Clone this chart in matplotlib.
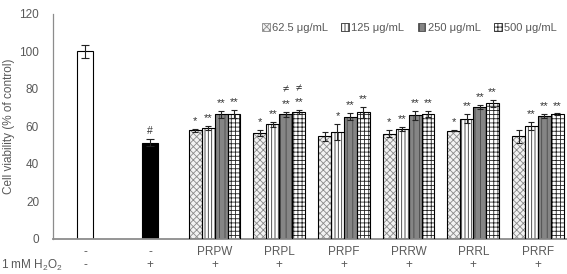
import matplotlib
matplotlib.use("Agg")
import matplotlib.pyplot as plt
import numpy as np
from matplotlib.patches import Patch
from matplotlib.transforms import blended_transform_factory

plt.rcParams['font.family'] = ['Liberation Sans', 'DejaVu Sans']
plt.rcParams['mathtext.fontset'] = 'custom'
plt.rcParams['mathtext.rm'] = 'Liberation Sans'
plt.rcParams['mathtext.it'] = 'Liberation Sans'
plt.rcParams['hatch.linewidth'] = 0.6

# ---- data ----
row1_labels = ["-", "-", "PRPW", "PRPL", "PRPF", "PRRW", "PRRL", "PRRF"]
row2_labels = ["-", "+", "+", "+", "+", "+", "+", "+"]
single_vals = [100.0, 51.3]
single_errs = [3.5, 1.8]
single_marks = ["", "#"]

groups = ["PRPW", "PRPL", "PRPF", "PRRW", "PRRL", "PRRF"]
series = ["62.5 μg/mL", "125 μg/mL", "250 μg/mL", "500 μg/mL"]
v625 = [57.9, 56.6, 54.7, 56.1, 57.7, 54.7]
v125 = [59.1, 61.1, 57.0, 58.6, 64.1, 60.2]
v250 = [66.4, 66.4, 65.2, 65.9, 70.4, 65.5]
v500 = [66.6, 67.7, 67.5, 66.6, 72.3, 66.4]
e625 = [0.8, 1.5, 2.5, 1.8, 0.3, 3.5]
e125 = [1.2, 1.2, 4.5, 1.3, 2.5, 2.0]
e250 = [1.8, 1.5, 1.8, 2.3, 1.0, 1.0]
e500 = [2.0, 1.0, 2.8, 1.5, 1.8, 0.5]
m625 = ["*", "*", "", "*", "*", ""]
m125 = ["**", "**", "*", "**", "**", "**"]
m250 = ["**", "**\n≠", "**", "**", "**", "**"]
m500 = ["**", "**\n≠", "**", "**", "**", "**"]

TXT = "#595959"
FS = 8.5
fig = plt.figure(figsize=(5.67, 2.74), dpi=100)
ax = fig.add_axes([53/567, 1-238.7/274, 514/567, 224.7/274])

xs = np.arange(len(row1_labels))
# single bars
ax.bar(xs[:2], single_vals, width=0.25, color=["white", "black"], edgecolor="black", linewidth=0.8,
       yerr=single_errs, error_kw=dict(ecolor="#222222", elinewidth=0.8, capsize=3, capthick=0.8), zorder=2)
for x, v, e, m in zip(xs[:2], single_vals, single_errs, single_marks):
    if m:
        ax.text(x, v + e + 1.5, m, ha="center", va="bottom", fontsize=7.5, color="#333333")

styles = [
    dict(face="#f2f2f2", hatch="xxxxx", hcol="#8a8a8a"),
    dict(face="white", hatch="|||||", hcol="#333333"),
    dict(face="#858585", hatch="|||", hcol="#4a4a4a"),
    dict(face="white", hatch="++++", hcol="#222222"),
]
vals = [v625, v125, v250, v500]
errs = [e625, e125, e250, e500]
marks = [m625, m125, m250, m500]
gx = xs[2:]
w = 0.2
offs = [-0.3, -0.1, 0.1, 0.3]
handles = []
for i in range(4):
    st = styles[i]
    pos = gx + offs[i]
    ax.bar(pos, vals[i], width=w, color=st["face"], edgecolor=st["hcol"], hatch=st["hatch"],
           linewidth=0, zorder=2)
    ax.bar(pos, vals[i], width=w, fill=False, edgecolor="black", linewidth=0.8,
           yerr=errs[i], error_kw=dict(ecolor="#222222", elinewidth=0.8, capsize=2.5, capthick=0.8), zorder=3)
    for x, v, e, m in zip(pos, vals[i], errs[i], marks[i]):
        if m:
            lines = m.split("\n")
            y = v + e + 1.5
            for ln in lines:
                ax.text(x, y, ln, ha="center", va="bottom", fontsize=8, color="#333333")
                y += 7.5
    handles.append(Patch(facecolor=st["face"], edgecolor=st["hcol"], hatch=st["hatch"], linewidth=0.6))

ax.set_xlim(-0.5, 7.45)
ax.set_ylim(0, 120)
ax.set_yticks(np.arange(0, 121, 20))
ax.tick_params(axis="y", length=0, labelsize=FS, labelcolor=TXT, pad=10)
ax.set_xticks(xs)
ax.set_xticklabels(row1_labels)
ax.tick_params(axis="x", length=0, labelsize=FS, labelcolor=TXT, pad=5)
for s in ["top", "right"]:
    ax.spines[s].set_visible(False)
ax.spines["left"].set_color("#8c8c8c")
ax.spines["bottom"].set_color("#8c8c8c")
ax.spines["left"].set_linewidth(0.9)
ax.spines["bottom"].set_linewidth(1.3)

tr = blended_transform_factory(ax.transData, ax.transAxes)
for x, lab in zip(xs, row2_labels):
    ax.text(x, -0.117, lab, transform=tr, ha="center", va="center", fontsize=FS, color=TXT)
fig.text(1/567, 1-265/274, "1 mM H$_2$O$_2$", ha="left", va="center", fontsize=FS, color=TXT)
fig.text(9/567, 1-126/274, "Cell viability (% of control)", rotation=90, ha="center", va="center",
         fontsize=FS, color=TXT)

leg = fig.legend(handles, series, loc="center left", bbox_to_anchor=(262/567, 1-28/274), ncol=4,
                 frameon=False, fontsize=8, handlelength=0.7, handleheight=0.7, handletextpad=0.2,
                 columnspacing=1.2, borderaxespad=0, borderpad=0)
for t in leg.get_texts():
    t.set_color(TXT)

fig.savefig("out.png", dpi=100)
